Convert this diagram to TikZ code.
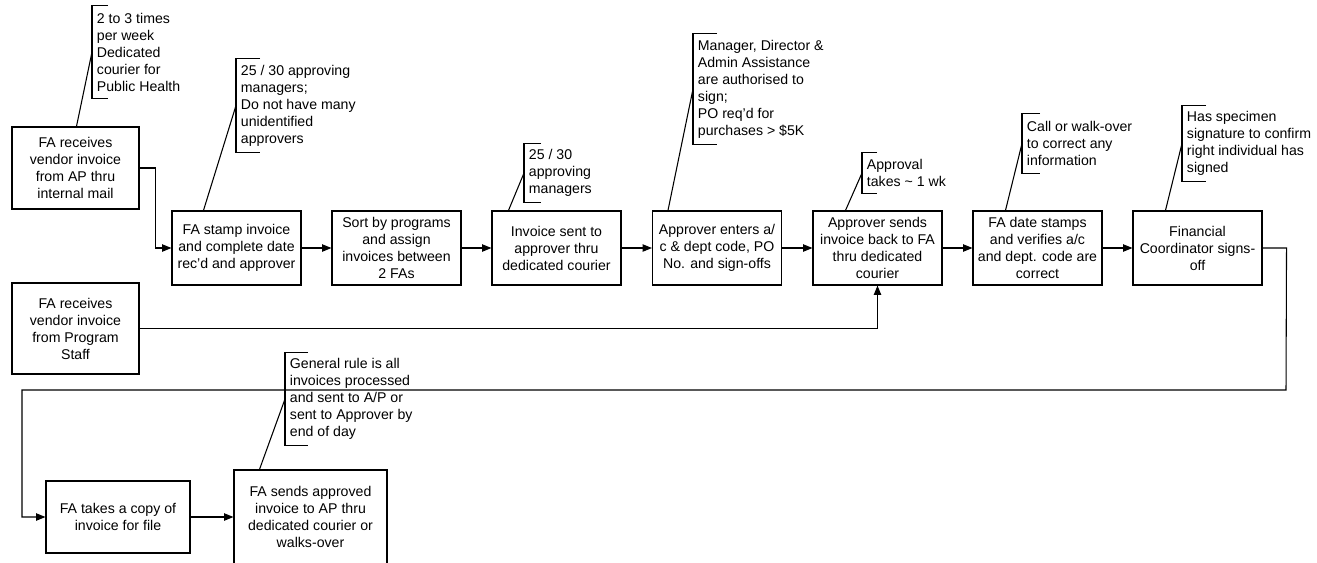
\documentclass[tikz,border=0pt]{standalone}
\usepackage{fontspec}
\setmainfont{Liberation Sans}
\usetikzlibrary{arrows.meta,calc}
\begin{document}
\begin{tikzpicture}[x=0.75pt,y=-0.75pt,
  every node/.style={font=\fontsize{10.6}{12.75}\selectfont, inner sep=0pt},
  box/.style={draw, line width=0.8pt, align=center, minimum width=96.75pt, minimum height=55.5pt},
  note/.style={anchor=west, align=left, inner xsep=3.5pt},
  brk/.style={line width=0.8pt},
  lead/.style={line width=0.8pt},
  flow/.style={line width=0.8pt, -{Triangle[length=7pt,width=5.5pt]}}]
\useasboundingbox (0,0) rectangle (1317,562);
\clip (0,0) rectangle (1317,562);
% boxes
\node[box, minimum width=95.25pt, minimum height=61.5pt] (A) at (75.5,168) {FA receives\\vendor invoice\\from AP thru\\internal mail};
\node[box] (B) at (236.5,248) {FA stamp invoice\\and complete date\\rec’d and approver};
\node[box] (C) at (396.5,248) {Sort by programs\\and assign\\invoices between\\2 FAs};
\node[box] (D) at (556.5,248) {Invoice sent to\\approver thru\\dedicated courier};
\node[box] (E) at (717,248) {Approver enters a/\\c \& dept code, PO\\No. and sign-offs};
\node[box] (F) at (877.5,248) {Approver sends\\invoice back to FA\\thru dedicated\\courier};
\node[box] (G) at (1037.5,248) {FA date stamps\\and verifies a/c\\and dept. code are\\correct};
\node[box] (H) at (1197.5,248) {Financial\\Coordinator signs-\\off};
\node[box, minimum width=95.25pt, minimum height=68.25pt] (I) at (75.5,328.5) {FA receives\\vendor invoice\\from Program\\Staff};
\node[box, minimum width=108pt, minimum height=54pt] (J) at (118,517) {FA takes a copy of\\invoice for file};
\node[box, minimum width=114.75pt, minimum height=70.5pt] (K) at (310.5,517) {FA sends approved\\invoice to AP thru\\dedicated courier or\\walks-over};
% callouts
\node[note, minimum height=69pt] (c1) at (92,52) {2 to 3 times\\per week\\Dedicated\\courier for\\Public Health};
\node[note, minimum height=69.75pt] (c2) at (236,105.5) {25 / 30 approving\\managers;\\Do not have many\\unidentified\\approvers};
\node[note, minimum height=43.5pt] (c3) at (524,173) {25 / 30\\approving\\managers};
\node[note, minimum height=82.5pt] (c4) at (693,89) {Manager, Director \&\\Admin Assistance\\are authorised to\\sign;\\PO req’d for\\purchases > \$5K};
\node[note, minimum height=30pt] (c5) at (862,173) {Approval\\takes \textasciitilde{} 1 wk};
\node[note, minimum height=44.25pt] (c6) at (1022,143.5) {Call or walk-over\\to correct any\\information};
\node[note, minimum height=56.25pt] (c7) at (1182,143.5) {Has specimen\\signature to confirm\\right individual has\\signed};
\node[note, minimum height=69pt] (c8) at (285,399) {General rule is all\\invoices processed\\and sent to A/P or\\sent to Approver by\\end of day};
% brackets
\foreach \n/\t in {c1/16,c2/24,c3/17,c4/24,c5/15,c6/18,c7/24,c8/23}{
  \draw[brk] ($(\n.north west)+(\t,0)$) -- (\n.north west) -- (\n.south west) -- ($(\n.south west)+(\t,0)$);
}
% leaders
\draw[lead] ($(A.north west)+(65,0)$) -- (c1.west);
\draw[lead] ($(B.north west)+(32,0)$) -- (c2.west);
\draw[lead] ($(D.north west)+(17,0)$) -- (c3.west);
\draw[lead] ($(E.north west)+(16,0)$) -- (c4.west);
\draw[lead] ($(F.north west)+(33,0)$) -- (c5.west);
\draw[lead] ($(G.north west)+(33,0)$) -- (c6.west);
\draw[lead] ($(H.north west)+(33,0)$) -- (c7.west);
\draw[lead] ($(K.north west)+(26,0)$) -- (c8.west);
% flow
\draw[flow] (A.east) -| ++(16,0) |- (B.west);
\draw[flow] (B) -- (C);
\draw[flow] (C) -- (D);
\draw[flow] (D) -- (E);
\draw[flow] (E) -- (F);
\draw[flow] (F) -- (G);
\draw[flow] (G) -- (H);
\draw[flow] (I.east) -| (F.south);
\coordinate (r1) at ($(H.east)+(24,0)$);
\coordinate (r2) at (1286,390);
\coordinate (l1) at (22,390);
\draw[flow] (H.east) -- (r1) -- (r2) -- (l1) |- (J.west);
\draw[flow] (J) -- (K);
\end{tikzpicture}
\end{document}
